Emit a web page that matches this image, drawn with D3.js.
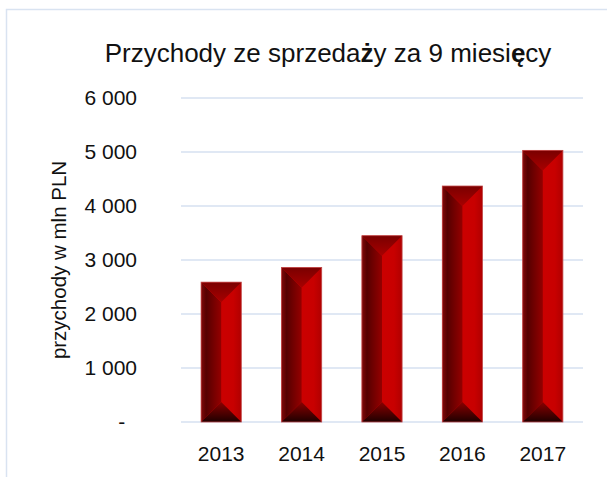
<!DOCTYPE html>
<html>
<head>
<meta charset="utf-8">
<script src="https://cdn.jsdelivr.net/npm/d3@7"></script>
<style>
  body { margin: 0; background: #fff; }
  text { font-family: "Liberation Sans", Arial, sans-serif; fill: #111; }
</style>
</head>
<body>
<div id="chart"></div>
<script>
// dane
const years = ["2013", "2014", "2015", "2016", "2017"];
const revenue = [2590, 2860, 3450, 4370, 5030];
const yTicks = [0, 1000, 2000, 3000, 4000, 5000, 6000];
const title = "Przychody ze sprzedaży za 9 miesięcy";
const yTitle = "przychody w mln PLN";

const W = 607, H = 477;
const margin = { top: 98, left: 181, right: 24, bottom: 55 };

const svg = d3.select("#chart").append("svg")
  .attr("width", W).attr("height", H);

// ramka wykresu
svg.append("rect")
  .attr("x", 6.5).attr("y", 9.5)
  .attr("width", 700).attr("height", 600)
  .attr("fill", "#fff")
  .attr("stroke", "#d9e3f1").attr("stroke-width", 1.5);

const defs = svg.append("defs");
function grad(id, x2, y2, stops) {
  const g = defs.append("linearGradient").attr("id", id)
    .attr("x1", 0).attr("y1", 0).attr("x2", x2).attr("y2", y2);
  stops.forEach(s => g.append("stop").attr("offset", s[0]).attr("stop-color", s[1]));
}
grad("gLeft", 1, 0, [[0, "#800a0a"], [0.25, "#560000"], [1, "#940000"]]);
grad("gRight", 1, 0, [[0, "#d00000"], [0.8, "#c80000"], [1, "#b00000"]]);
grad("gTop", 0, 1, [[0, "#7a0000"], [1, "#a80000"]]);
grad("gBot", 0, 1, [[0, "#8a0000"], [1, "#1e0000"]]);

const x = d3.scaleBand()
  .domain(years)
  .range([margin.left, W - margin.right])
  .paddingInner(0.5)
  .paddingOuter(0.25);

const y = d3.scaleLinear()
  .domain([0, 6000])
  .range([H - margin.bottom, margin.top]);

// linie siatki
svg.append("g")
  .selectAll("line")
  .data(yTicks)
  .enter().append("line")
  .attr("x1", margin.left).attr("x2", W - margin.right)
  .attr("y1", d => y(d)).attr("y2", d => y(d))
  .attr("stroke", "#d6e1f0").attr("stroke-width", 1.5);

// etykiety osi Y
const fmt = d => d === 0 ? "-\u00a0\u00a0" : d3.format(",")(d).replace(",", " ");
svg.append("g")
  .selectAll("text")
  .data(yTicks)
  .enter().append("text")
  .attr("x", 137)
  .attr("y", d => y(d))
  .attr("dy", "0.35em")
  .attr("text-anchor", "end")
  .style("font-size", "21px")
  .text(fmt);

// etykiety osi X
svg.append("g")
  .selectAll("text")
  .data(years)
  .enter().append("text")
  .attr("x", d => x(d) + x.bandwidth() / 2)
  .attr("y", 461)
  .attr("text-anchor", "middle")
  .style("font-size", "21px")
  .text(d => d);

// słupki z fazowaniem
const bars = svg.append("g")
  .selectAll("g")
  .data(years.map((yr, i) => ({ yr, v: revenue[i] })))
  .enter().append("g");

bars.each(function(d) {
  const g = d3.select(this);
  const x0 = x(d.yr), w = x.bandwidth(), x1 = x0 + w, xm = x0 + w / 2;
  const top = y(d.v), bot = y(0);
  const dp = Math.min(w / 2, (bot - top) / 2);
  g.append("rect").attr("x", x0).attr("y", top).attr("width", w).attr("height", bot - top)
    .attr("fill", "url(#gRight)");
  g.append("polygon")
    .attr("points", [[x0, top], [xm, top + dp], [xm, bot - dp], [x0, bot]].join(" "))
    .attr("fill", "url(#gLeft)");
  g.append("polygon")
    .attr("points", [[x0, top], [x1, top], [xm, top + dp]].join(" "))
    .attr("fill", "url(#gTop)");
  g.append("polygon")
    .attr("points", [[x0, bot], [x1, bot], [xm, bot - dp]].join(" "))
    .attr("fill", "url(#gBot)");
  g.append("rect").attr("x", x0).attr("y", top).attr("width", w).attr("height", bot - top)
    .attr("fill", "none").attr("stroke", "#c04848").attr("stroke-width", 0.8);
});

// tytuł
const t = svg.append("text")
  .attr("x", 328).attr("y", 62)
  .attr("text-anchor", "middle")
  .style("font-size", "26px");
Array.from(title).forEach(ch => {
  t.append("tspan")
    .style("font-weight", "żę".includes(ch) ? "bold" : "normal")
    .text(ch);
});

// tytuł osi Y
svg.append("text")
  .attr("transform", "translate(66," + y(3000) + ") rotate(-90)")
  .attr("text-anchor", "middle")
  .style("font-size", "20.5px")
  .text(yTitle);
</script>
</body>
</html>
